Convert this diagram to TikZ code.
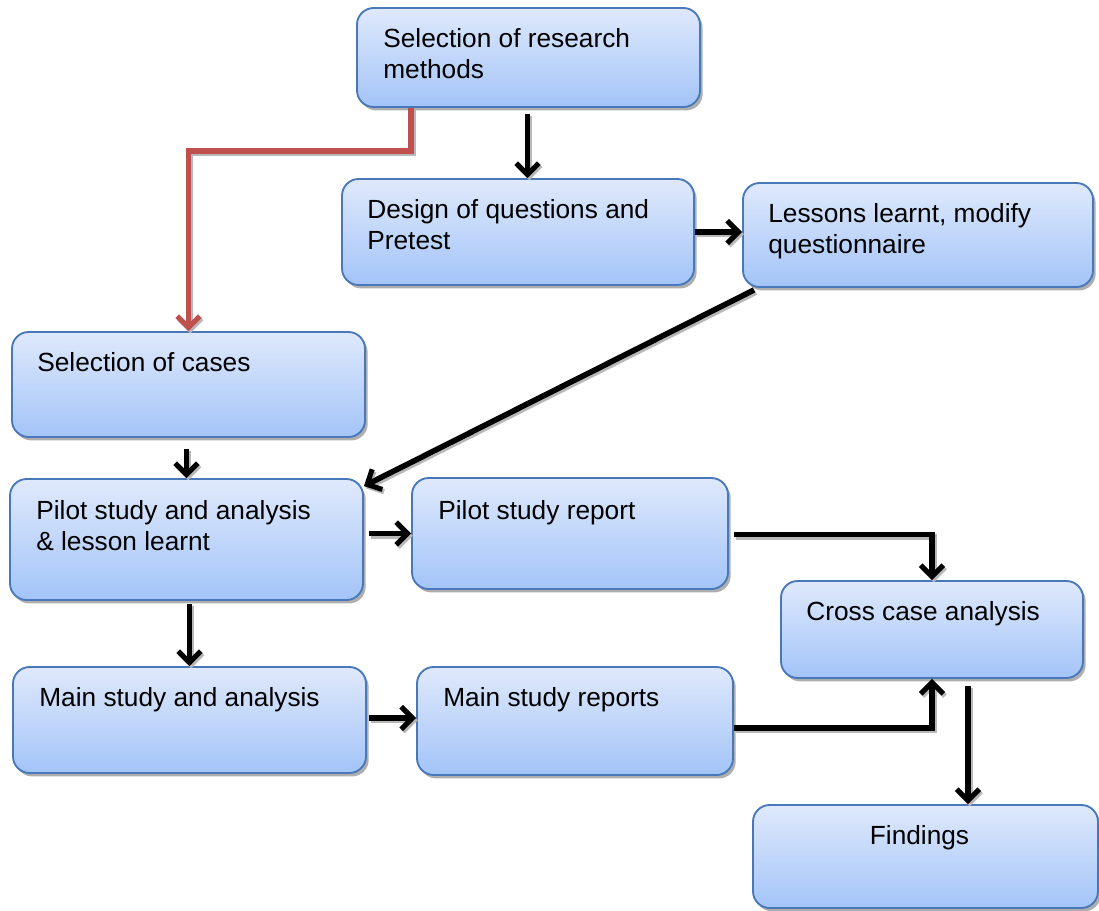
\documentclass[tikz,border=0pt]{standalone}
\usepackage{fontspec}
\setmainfont{Liberation Sans}
\usetikzlibrary{arrows.meta,calc,shadows}

\definecolor{boxtop}{RGB}{223,233,252}
\definecolor{boxbot}{RGB}{163,196,248}
\definecolor{boxline}{RGB}{72,120,185}
\definecolor{redline}{RGB}{192,80,77}

% rounded flow box spanning the corners (x1,y1)-(x2,y2), measured in px
\newcommand\flowbox[5]{%
  \node[box, minimum width={(#4-#2)*0.75pt}, minimum height={(#5-#3)*0.75pt}]
    (#1) at ({(#2+#4)/2},{(#3+#5)/2}) {};}

\begin{document}
\begin{tikzpicture}[x=0.75pt,y=-0.75pt,
  box/.style={rectangle, rounded corners=12.5pt, draw=boxline, line width=1.4pt,
    top color=boxtop, bottom color=boxbot, inner sep=0pt,
    drop shadow={shadow xshift=2pt, shadow yshift=-2.6pt, fill=black!45, opacity=0.7}},
  label/.style={anchor=base west, inner sep=0pt,
    font=\fontsize{19.7}{23.3}\selectfont},
  flow/.style={line width=4.2pt,
    -{Straight Barb[length=8.5pt,width=17pt,line width=3.8pt]}},
  shade/.style={draw=black!28, line width=4.2pt,
    -{Straight Barb[length=8.5pt,width=17pt,line width=3.8pt]},
    transform canvas={shift={(1.3pt,-1.7pt)}}},
  redflow/.style={flow, draw=redline},
]
\useasboundingbox (0,0) rectangle (1099,910);

% boxes
\flowbox{b1}{357}{8}{700}{107}
\flowbox{b2}{342}{179}{694}{285}
\flowbox{b3}{743}{183}{1093}{287}
\flowbox{b4}{12}{332}{365}{437}
\flowbox{b5}{10}{479}{363}{600}
\flowbox{b6}{412}{478}{728}{589}
\flowbox{b7}{781}{581}{1083}{678}
\flowbox{b8}{13}{667}{366}{773}
\flowbox{b9}{417}{667}{733}{775}
\flowbox{b10}{753}{805}{1098}{908}

% texts
\newcommand\lines[1]{\parbox[t]{12cm}{\raggedright #1}}
\node[label] (t1) at ($(b1.north west)+(27,40)$) {\lines{Selection of research\\methods}};
\node[label] (t2) at ($(b2.north west)+(26,40)$) {\lines{Design of questions and\\Pretest}};
\node[label] (t3) at ($(b3.north west)+(26,40)$) {\lines{Lessons learnt, modify\\questionnaire}};
\node[label] (t4) at ($(b4.north west)+(26,40)$) {Selection of cases};
\node[label] (t5) at ($(b5.north west)+(27,41)$) {\lines{Pilot study and analysis\\\& lesson learnt}};
\node[label] (t6) at ($(b6.north west)+(27,42)$) {Pilot study report};
\node[label] (t7) at ($(b7.north west)+(26,40)$) {Cross case analysis};
\node[label] (t8) at ($(b8.north west)+(27,40)$) {Main study and analysis};
\node[label] (t9) at ($(b9.north west)+(27,40)$) {Main study reports};
\node[label, anchor=base] (t10) at ($(b10.north)+(-6,40)$) {Findings};

% connector anchors
\coordinate (c1) at ($(b1.south)+(-1,6)$);
\coordinate (r1) at ($(b1.south west)+(55,0)$);
\coordinate (d1) at ($(b3.south west)+(12,2)$);
\coordinate (d2) at ($(b5.north east)+(0,8)$);
\coordinate (c4) at ($(b4.south)+(-2,11)$);
\coordinate (c5) at ($(b6.west)+(-42,0)$);
\coordinate (c6) at ($(b8.north)+(0,-62)$);
\coordinate (c8) at ($(b9.west)+(-47,-3)$);
\coordinate (c9) at ($(b9.west)+(0,-3)$);
\coordinate (e6) at ($(b6.east)+(5,1)$);
\coordinate (e9) at ($(b9.east)+(0,7)$);
\coordinate (c7) at ($(b7.south)+(36,7)$);

% connectors: a soft grey copy first, then the line itself
\foreach \st in {shade,flow}{
  \draw[\st] (c1) -- (c1 |- b2.north);
  \draw[\st] (b2.east) -- (b2.east -| b3.west);
  \draw[\st] (d1) -- (d2);
  \draw[\st] (c4) -- (c4 |- b5.north);
  \draw[\st] (c5) -- (b6.west);
  \draw[\st] (c6) -- (b8.north);
  \draw[\st] (c8) -- (c9);
  \draw[\st] (e6) -| (b7.north);
  \draw[\st] (e9) -| (b7.south);
  \draw[\st] (c7) -- (c7 |- b10.north);
}
\draw[shade] (r1) -- ++(0,43) -| (b4.north);
\draw[redflow] (r1) -- ++(0,43) -| (b4.north);
\end{tikzpicture}
\end{document}
